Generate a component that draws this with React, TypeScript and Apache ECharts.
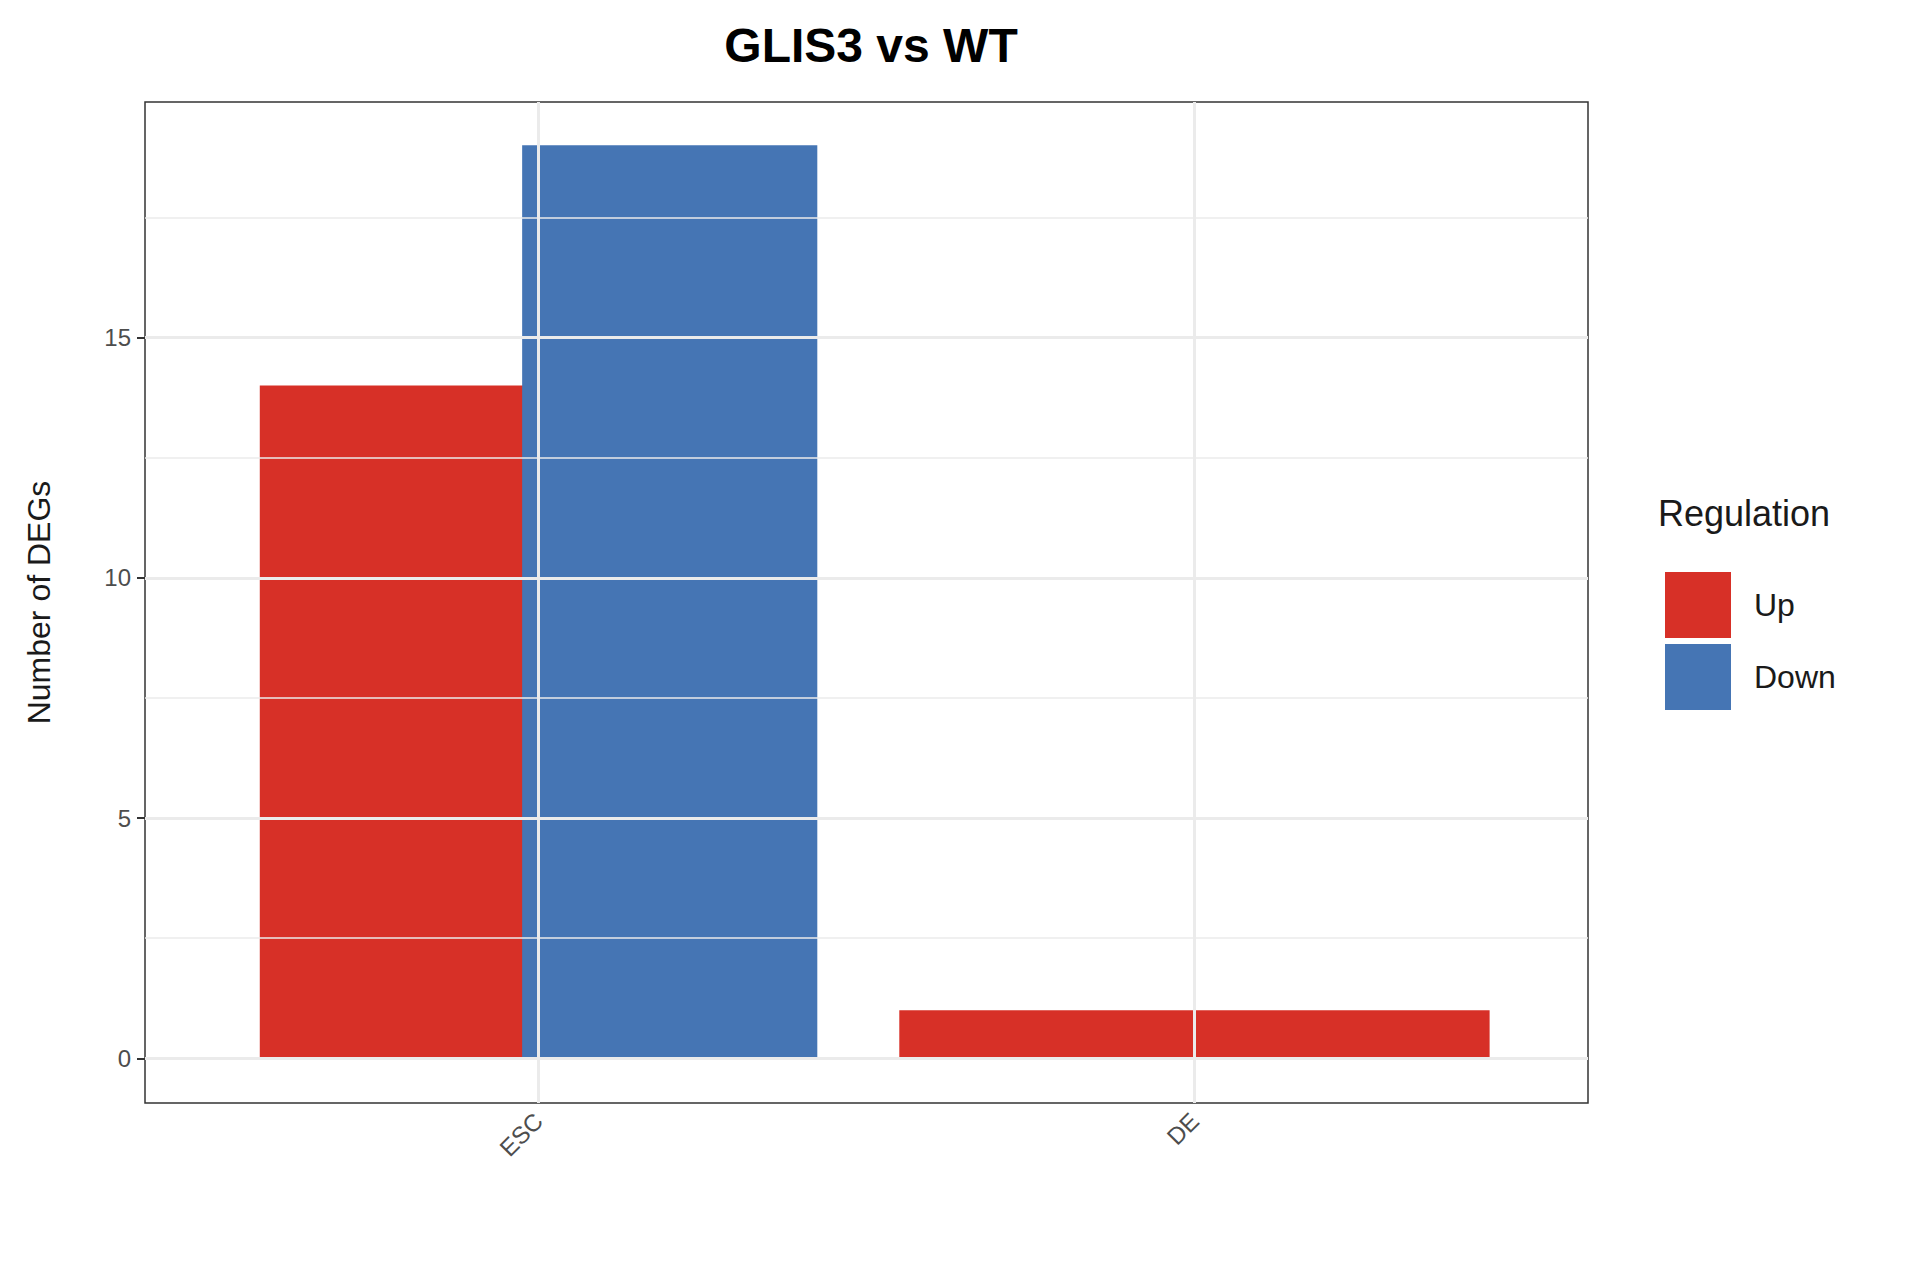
import React, { useEffect, useRef } from "react";
import * as echarts from "echarts";

const categories = ["ESC", "DE"];
const upValues = [14, 1];
const downValues = [19, 0];
const yTicks = [0, 5, 10, 15];
const yMinor = [2.5, 7.5, 12.5, 17.5];

const FONT = "Liberation Sans";

export default function App() {
  const chartRef = useRef<HTMLDivElement>(null);

  useEffect(() => {
    if (!chartRef.current) return;
    const chart = echarts.init(chartRef.current, null, { renderer: "svg" });

    // dodge like ggplot: two bars share the 0.9 slot, a lone bar takes it all
    const makeRender = (isUp: boolean) => (params: any, api: any) => {
      const idx = params.dataIndex;
      const v = isUp ? upValues[idx] : downValues[idx];
      if (!v) return null;
      const both = upValues[idx] > 0 && downValues[idx] > 0;
      const c = idx + 1;
      let x0 = c - 0.45, x1 = c + 0.45;
      if (both) {
        x0 = isUp ? c - 0.425 : c - 0.025;
        x1 = isUp ? c + 0.025 : c + 0.425;
      }
      const p0 = api.coord([x0, v]);
      const p1 = api.coord([x1, 0]);
      return {
        type: "rect",
        shape: { x: p0[0], y: p0[1], width: p1[0] - p0[0], height: p1[1] - p0[1] },
        style: { fill: api.visual("color") },
      };
    };

    chart.setOption({
      animation: false,
      backgroundColor: "#fff",
      textStyle: { fontFamily: FONT },
      title: {
        text: "GLIS3 vs WT",
        left: 866,
        textAlign: "center",
        top: 16,
        textStyle: { fontSize: 48, fontWeight: "bold", color: "#000", fontFamily: FONT },
      },
      grid: {
        left: 145, right: 332, top: 102, bottom: 177,
        show: true, borderColor: "#333", borderWidth: 1.5, backgroundColor: "#fff",
      },
      legend: {
        orient: "vertical",
        left: 1660, top: 567,
        itemWidth: 66, itemHeight: 66, itemGap: 6,
        icon: "rect",
        textStyle: { fontSize: 32, color: "#1a1a1a", padding: [0, 0, 0, 18] },
        data: ["Up", "Down"],
      },
      graphic: [
        {
          type: "text", left: 1658, top: 495,
          style: { text: "Regulation", fontSize: 36, fill: "#1a1a1a", fontFamily: FONT },
        },
      ],
      xAxis: {
        type: "value", min: 0.4, max: 2.6,
        splitLine: { show: false },
        axisLine: { show: false },
        axisTick: { show: true, customValues: [1, 2], length: 8, lineStyle: { color: "#333", width: 2 } },
        axisLabel: {
          customValues: [1, 2],
          formatter: (v: number) => categories[Math.round(v) - 1] ?? "",
          rotate: 45, fontSize: 24, color: "#4d4d4d", margin: 14,
        },
      },
      yAxis: {
        type: "value", min: -0.93, max: 19.9,
        name: "Number of DEGs", nameLocation: "middle", nameGap: 90,
        nameTextStyle: { fontSize: 32, color: "#1a1a1a" },
        splitLine: { show: false },
        axisLine: { show: false },
        axisTick: { show: true, customValues: yTicks, length: 8, lineStyle: { color: "#333", width: 2 } },
        axisLabel: { customValues: yTicks, fontSize: 24, color: "#4d4d4d", margin: 14 },
      },
      series: [
        {
          name: "grid", type: "line", data: [], silent: true,
          markLine: {
            symbol: "none", silent: true, label: { show: false },
            data: [
              ...yMinor.map((y) => ({ yAxis: y, lineStyle: { color: "#ebebeb", width: 1.5, type: "solid" } })),
              ...yTicks.map((y) => ({ yAxis: y, lineStyle: { color: "#ebebeb", width: 3, type: "solid" } })),
              ...categories.map((_, i) => ({ xAxis: i + 1, lineStyle: { color: "#ebebeb", width: 3, type: "solid" } })),
            ],
          },
        },
        {
          name: "Up", type: "custom", color: "#D73027", z: 3,
          renderItem: makeRender(true),
          data: upValues.map((v, i) => [i + 1, v]),
        },
        {
          name: "Down", type: "custom", color: "#4575B4", z: 3,
          renderItem: makeRender(false),
          data: downValues.map((v, i) => [i + 1, v]),
        },
      ],
    });

    return () => chart.dispose();
  }, []);

  return (
    <div
      ref={chartRef}
      style={{ position: "absolute", left: 0, top: 0, width: 1920, height: 1280 }}
    />
  );
}
